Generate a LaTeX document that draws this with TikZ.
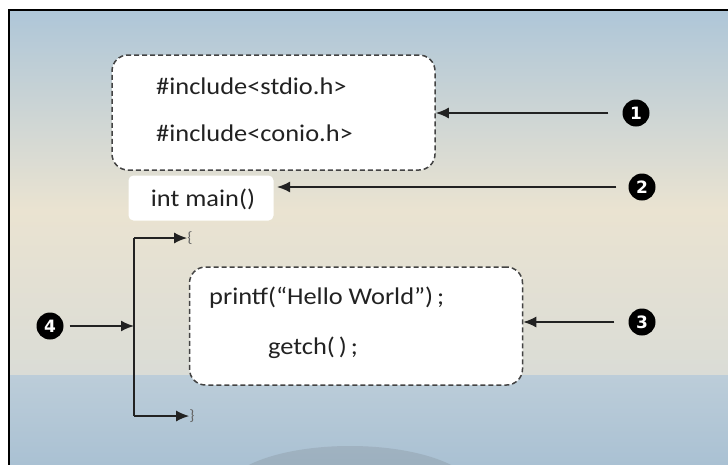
\documentclass[tikz,border=0pt]{standalone}
\usepackage{fontspec}
\setmainfont[FakeStretch=1.1]{Carlito}
\newfontfamily\numfont{DejaVu Sans}
\usetikzlibrary{arrows.meta}
\definecolor{skytop}{HTML}{AEC6D8}
\definecolor{skymid}{HTML}{EAE3D1}
\definecolor{skylow}{HTML}{DADCD6}
\definecolor{bandtop}{HTML}{BCCDD9}
\definecolor{bandbot}{HTML}{AAC1D3}
\definecolor{hill}{HTML}{8FA5B6}
\definecolor{ink}{HTML}{222222}
\begin{document}
\begin{tikzpicture}[x=1pt,y=-1pt,
  codebox/.style={draw=ink!85, line width=1.5pt, dash pattern=on 5pt off 3pt, rounded corners=16pt, fill=white},
  plainbox/.style={fill=white, rounded corners=5pt},
  codetext/.style={font=\fontsize{24}{28}\selectfont, text=ink, inner sep=0pt},
  bracetext/.style={font=\fontsize{15}{17}\selectfont, text=ink!70, inner sep=0pt},
  badge/.style={circle, fill=black, text=white, inner sep=0pt, minimum size=27pt, font=\numfont\bfseries\fontsize{17}{17}\selectfont},
  pointer/.style={draw=ink, line width=1.8pt, -{Latex[length=13pt,width=11pt]}},
  link/.style={draw=ink, line width=1.8pt}]
\useasboundingbox (0,0) rectangle (728,464);
% background
\fill[white] (0,0) rectangle (728,464);
\shade[top color=skytop, bottom color=skymid] (9,10) rectangle (728,210);
\shade[top color=skymid, bottom color=skylow] (9,209.5) rectangle (728,375);
\shade[top color=bandtop, bottom color=bandbot] (9,375) rectangle (728,464);
\shade[top color=hill!85, bottom color=hill] (350,492) ellipse [x radius=125pt, y radius=46pt];
\draw[black, line width=2.6pt] (9,480) -- (9,10) -- (740,10);
% boxes
\node[codebox, minimum width=323pt, minimum height=115pt] (inc) at (273.5,112.5) {};
\node[codetext, anchor=west] (inc1) at (156,86) {\#include<stdio.h>};
\node[codetext, anchor=west] (inc2) at (156,133) {\#include<conio.h>};
\node[plainbox, minimum width=145pt, minimum height=45pt] (mainbox) at (201,198) {};
\node[codetext] (main) at (203,199) {int main()};
\node[codebox, minimum width=333pt, minimum height=118pt] (body) at (356,326) {};
\node[codetext, anchor=west] (pf) at (209,298) {printf(“Hello World”)\,;};
\node[codetext, anchor=west] (gc) at (268,348) {getch(\,)\,;};
\node[bracetext] (open) at (190,238) {\{};
\node[bracetext] (close) at (192,416) {\}};
% badges
\node[badge] (n1) at (636,113) {1};
\node[badge] (n2) at (642,187) {2};
\node[badge] (n3) at (642,322) {3};
\node[badge] (n4) at (50,326) {4};
% arrows
\draw[pointer] (n1.west) ++(-14pt,0) -- (inc.east |- n1);
\draw[pointer] (n2.west) ++(-12pt,0) -- (277,187);
\draw[pointer] (n3.west) ++(-14pt,0) -- (body.east |- n3);
\coordinate (vtop) at (134,238);
\coordinate (vbot) at (134,416);
\coordinate (vmid) at (134,326);
\draw[link] (vtop) -- (vbot);
\draw[pointer] (vtop) -- (open.west);
\draw[pointer] (vbot) -- (close.west);
\draw[pointer] (n4.east) ++(6pt,0) -- (vmid);
\end{tikzpicture}
\end{document}
